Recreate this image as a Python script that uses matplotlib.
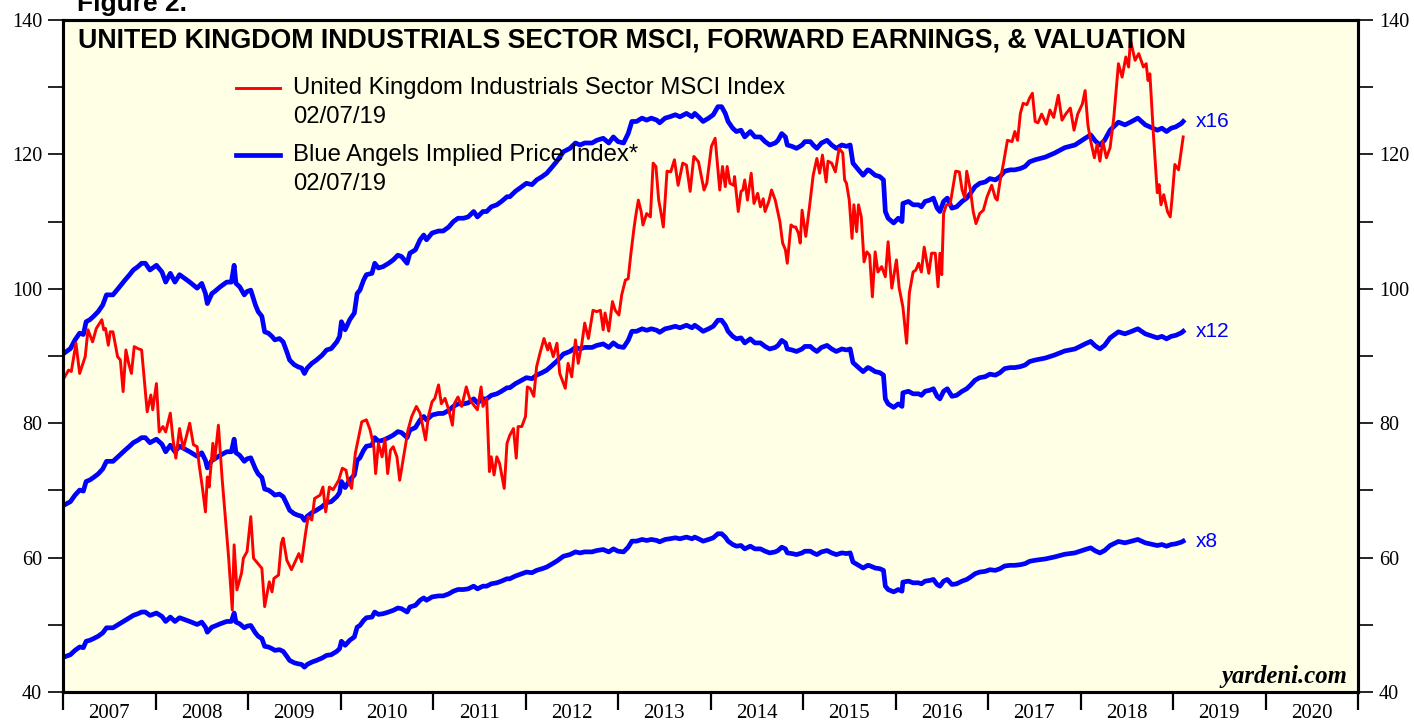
import matplotlib
matplotlib.use("Agg")
import matplotlib.pyplot as plt
from matplotlib.lines import Line2D
from matplotlib.ticker import MultipleLocator
import numpy as np

# UK Industrials MSCI price index (weekly)
red_dates = [
    2007.01, 2007.06, 2007.09, 2007.14, 2007.18, 2007.24, 2007.27, 2007.32, 2007.36, 2007.42,
    2007.44, 2007.46, 2007.49, 2007.51, 2007.54, 2007.59, 2007.62, 2007.65, 2007.68, 2007.71,
    2007.74, 2007.77, 2007.81, 2007.85, 2007.91, 2007.95, 2007.97, 2008.01, 2008.04, 2008.08,
    2008.11, 2008.16, 2008.19, 2008.22, 2008.26, 2008.30, 2008.37, 2008.41, 2008.45, 2008.47,
    2008.51, 2008.54, 2008.56, 2008.58, 2008.62, 2008.64, 2008.68, 2008.72, 2008.73, 2008.79,
    2008.83, 2008.85, 2008.88, 2008.93, 2008.95, 2008.99, 2009.03, 2009.06, 2009.12, 2009.15,
    2009.18, 2009.23, 2009.26, 2009.28, 2009.33, 2009.36, 2009.38, 2009.42, 2009.47, 2009.51,
    2009.55, 2009.58, 2009.62, 2009.65, 2009.69, 2009.72, 2009.78, 2009.81, 2009.84, 2009.88,
    2009.92, 2009.98, 2010.02, 2010.06, 2010.08, 2010.12, 2010.16, 2010.19, 2010.23, 2010.28,
    2010.32, 2010.36, 2010.38, 2010.41, 2010.45, 2010.48, 2010.51, 2010.54, 2010.57, 2010.61,
    2010.64, 2010.70, 2010.73, 2010.77, 2010.82, 2010.86, 2010.89, 2010.92, 2010.95, 2010.99,
    2011.02, 2011.06, 2011.09, 2011.13, 2011.17, 2011.21, 2011.23, 2011.27, 2011.31, 2011.36,
    2011.40, 2011.44, 2011.48, 2011.52, 2011.54, 2011.58, 2011.61, 2011.63, 2011.66, 2011.69,
    2011.72, 2011.77, 2011.80, 2011.83, 2011.87, 2011.90, 2011.92, 2011.96, 2012.00, 2012.02,
    2012.05, 2012.09, 2012.12, 2012.16, 2012.20, 2012.24, 2012.26, 2012.30, 2012.34, 2012.37,
    2012.43, 2012.46, 2012.50, 2012.54, 2012.57, 2012.61, 2012.64, 2012.68, 2012.73, 2012.77,
    2012.81, 2012.84, 2012.86, 2012.90, 2012.94, 2012.97, 2013.01, 2013.04, 2013.08, 2013.11,
    2013.14, 2013.17, 2013.19, 2013.22, 2013.25, 2013.27, 2013.31, 2013.35, 2013.38, 2013.41,
    2013.44, 2013.46, 2013.49, 2013.53, 2013.57, 2013.61, 2013.65, 2013.70, 2013.74, 2013.78,
    2013.82, 2013.87, 2013.93, 2013.96, 2014.01, 2014.05, 2014.10, 2014.13, 2014.16, 2014.18,
    2014.21, 2014.25, 2014.26, 2014.30, 2014.33, 2014.35, 2014.37, 2014.40, 2014.44, 2014.47,
    2014.51, 2014.54, 2014.57, 2014.59, 2014.63, 2014.66, 2014.70, 2014.75, 2014.78, 2014.81,
    2014.83, 2014.87, 2014.90, 2014.92, 2014.95, 2014.97, 2014.99, 2015.03, 2015.07, 2015.11,
    2015.15, 2015.18, 2015.21, 2015.25, 2015.27, 2015.31, 2015.35, 2015.39, 2015.43, 2015.45,
    2015.47, 2015.50, 2015.53, 2015.55, 2015.58, 2015.60, 2015.63, 2015.66, 2015.69, 2015.72,
    2015.75, 2015.78, 2015.81, 2015.85, 2015.89, 2015.92, 2015.96, 2016.01, 2016.04, 2016.08,
    2016.12, 2016.15, 2016.19, 2016.22, 2016.25, 2016.28, 2016.31, 2016.36, 2016.39, 2016.43,
    2016.46, 2016.48, 2016.50, 2016.52, 2016.55, 2016.59, 2016.62, 2016.65, 2016.69, 2016.72,
    2016.75, 2016.77, 2016.81, 2016.84, 2016.87, 2016.91, 2016.95, 2016.99, 2017.04, 2017.08,
    2017.10, 2017.13, 2017.17, 2017.21, 2017.26, 2017.29, 2017.32, 2017.35, 2017.38, 2017.42,
    2017.45, 2017.48, 2017.51, 2017.54, 2017.58, 2017.63, 2017.67, 2017.71, 2017.76, 2017.80,
    2017.84, 2017.89, 2017.93, 2017.97, 2018.02, 2018.05, 2018.08, 2018.11, 2018.15, 2018.18,
    2018.21, 2018.24, 2018.28, 2018.32, 2018.36, 2018.41, 2018.45, 2018.49, 2018.52, 2018.54,
    2018.59, 2018.63, 2018.68, 2018.71, 2018.73, 2018.75, 2018.79, 2018.83, 2018.85, 2018.87,
    2018.90, 2018.94, 2018.97, 2018.99, 2019.02, 2019.06, 2019.08, 2019.11,
]
red_index = [
    86.7, 87.9, 87.7, 91.9, 87.4, 89.9, 93.9, 92.1, 94.1, 95.4,
    93.9, 94.1, 91.6, 93.6, 93.6, 89.9, 89.4, 84.7, 90.9, 88.9,
    87.4, 91.4, 91.1, 90.9, 81.7, 84.2, 82.0, 85.9, 78.7, 79.5,
    78.7, 81.5, 77.5, 74.8, 79.2, 76.2, 80.0, 76.8, 76.5, 74.0,
    70.1, 66.8, 72.0, 70.5, 77.0, 74.5, 79.7, 71.8, 70.1, 60.1,
    52.2, 61.9, 55.2, 57.7, 59.9, 60.9, 66.1, 59.9, 58.9, 58.4,
    52.7, 56.4, 54.9, 56.9, 57.4, 62.1, 62.9, 59.6, 58.2, 59.4,
    60.6, 59.4, 63.4, 66.1, 65.6, 68.8, 69.3, 70.5, 66.8, 70.5,
    70.1, 71.5, 73.3, 73.0, 71.5, 70.3, 75.5, 77.5, 80.2, 80.5,
    79.0, 76.5, 72.5, 77.0, 75.0, 77.7, 72.5, 76.0, 76.5, 75.0,
    71.5, 76.5, 79.0, 81.0, 82.5, 81.5, 79.5, 77.5, 81.0, 83.2,
    83.7, 85.7, 82.9, 83.7, 82.0, 79.7, 82.9, 83.9, 82.5, 85.4,
    83.5, 82.7, 82.0, 85.4, 82.5, 83.7, 72.8, 75.0, 72.3, 75.0,
    74.0, 70.3, 77.0, 78.2, 79.2, 74.8, 79.5, 79.5, 81.0, 85.4,
    85.2, 84.0, 88.4, 90.6, 92.6, 90.9, 91.9, 89.9, 91.9, 87.4,
    85.2, 88.9, 86.9, 92.4, 88.9, 91.9, 94.9, 92.6, 96.8, 96.6,
    96.8, 93.9, 96.4, 93.7, 98.1, 96.8, 96.1, 99.1, 101.3, 101.5,
    105.3, 108.7, 110.7, 113.2, 111.5, 109.5, 111.2, 110.7, 118.7, 118.2,
    113.2, 111.7, 109.2, 117.5, 117.4, 119.2, 115.4, 118.7, 118.4, 114.5,
    119.7, 118.9, 114.7, 115.7, 121.2, 122.4, 114.7, 118.2, 115.2, 118.2,
    115.7, 115.4, 116.7, 111.5, 114.5, 114.7, 116.2, 113.2, 117.2, 112.7,
    114.2, 112.2, 113.4, 111.5, 113.0, 114.7, 113.2, 110.0, 106.8, 105.8,
    103.8, 109.5, 109.2, 109.2, 108.3, 106.8, 111.7, 107.8, 112.2, 116.9,
    119.4, 117.2, 119.9, 115.9, 119.0, 118.7, 117.4, 120.9, 120.2, 116.2,
    115.7, 113.2, 107.5, 112.5, 108.5, 112.5, 110.7, 104.0, 105.5, 105.0,
    98.8, 105.5, 102.5, 103.3, 101.8, 107.0, 100.1, 104.3, 100.1, 97.3,
    91.9, 99.4, 102.5, 102.8, 103.8, 102.5, 106.2, 102.3, 105.3, 105.3,
    100.3, 105.3, 102.1, 111.2, 112.5, 112.5, 115.0, 117.5, 117.4, 114.7,
    113.5, 117.5, 114.7, 111.5, 109.7, 111.2, 111.7, 113.7, 115.4, 113.5,
    113.2, 116.0, 118.9, 122.1, 121.9, 123.4, 122.1, 126.1, 127.6, 127.4,
    128.4, 129.1, 124.9, 124.7, 126.0, 124.5, 126.6, 125.5, 128.8, 125.1,
    126.0, 126.9, 123.6, 126.0, 127.5, 129.5, 124.4, 122.0, 119.5, 121.5,
    119.0, 122.0, 119.5, 121.0, 125.5, 133.5, 131.5, 134.5, 133.0, 137.0,
    134.0, 135.0, 133.0, 133.5, 131.0, 132.0, 122.6, 114.3, 115.5, 112.5,
    114.0, 111.5, 110.7, 113.5, 118.5, 117.7, 119.7, 122.6,
]

# Blue Angels implied price at 16x forward earnings
blue_dates = [
    2007.01, 2007.08, 2007.13, 2007.18, 2007.22, 2007.25, 2007.29, 2007.33, 2007.38, 2007.43,
    2007.47, 2007.54, 2007.60, 2007.67, 2007.72, 2007.76, 2007.81, 2007.85, 2007.89, 2007.94,
    2008.01, 2008.07, 2008.11, 2008.16, 2008.21, 2008.26, 2008.32, 2008.37, 2008.45, 2008.50,
    2008.54, 2008.56, 2008.61, 2008.64, 2008.70, 2008.77, 2008.82, 2008.85, 2008.87, 2008.91,
    2008.96, 2008.99, 2009.03, 2009.08, 2009.11, 2009.15, 2009.18, 2009.22, 2009.26, 2009.29,
    2009.34, 2009.38, 2009.42, 2009.45, 2009.50, 2009.54, 2009.58, 2009.61, 2009.64, 2009.69,
    2009.74, 2009.80, 2009.85, 2009.90, 2009.96, 2009.99, 2010.01, 2010.05, 2010.10, 2010.15,
    2010.18, 2010.21, 2010.25, 2010.28, 2010.34, 2010.37, 2010.41, 2010.46, 2010.52, 2010.57,
    2010.62, 2010.66, 2010.72, 2010.75, 2010.81, 2010.86, 2010.90, 2010.93, 2010.99, 2011.06,
    2011.11, 2011.17, 2011.22, 2011.27, 2011.33, 2011.38, 2011.44, 2011.48, 2011.54, 2011.58,
    2011.63, 2011.69, 2011.74, 2011.80, 2011.83, 2011.89, 2011.94, 2012.01, 2012.07, 2012.12,
    2012.18, 2012.23, 2012.28, 2012.34, 2012.41, 2012.48, 2012.54, 2012.59, 2012.64, 2012.72,
    2012.77, 2012.84, 2012.90, 2012.95, 2013.00, 2013.06, 2013.11, 2013.15, 2013.20, 2013.26,
    2013.31, 2013.36, 2013.42, 2013.45, 2013.51, 2013.56, 2013.62, 2013.67, 2013.74, 2013.80,
    2013.83, 2013.87, 2013.92, 2013.98, 2014.03, 2014.08, 2014.12, 2014.16, 2014.19, 2014.24,
    2014.28, 2014.33, 2014.37, 2014.43, 2014.48, 2014.54, 2014.59, 2014.64, 2014.70, 2014.73,
    2014.77, 2014.81, 2014.83, 2014.88, 2014.93, 2014.99, 2015.02, 2015.08, 2015.11, 2015.15,
    2015.20, 2015.26, 2015.31, 2015.36, 2015.42, 2015.47, 2015.51, 2015.54, 2015.60, 2015.65,
    2015.70, 2015.72, 2015.78, 2015.83, 2015.87, 2015.89, 2015.92, 2015.98, 2016.03, 2016.07,
    2016.08, 2016.14, 2016.19, 2016.25, 2016.28, 2016.32, 2016.37, 2016.41, 2016.45, 2016.48,
    2016.52, 2016.56, 2016.61, 2016.66, 2016.72, 2016.77, 2016.81, 2016.86, 2016.91, 2016.97,
    2017.02, 2017.08, 2017.13, 2017.18, 2017.24, 2017.29, 2017.35, 2017.40, 2017.45, 2017.51,
    2017.62, 2017.72, 2017.83, 2017.94, 2018.05, 2018.11, 2018.16, 2018.21, 2018.26, 2018.32,
    2018.41, 2018.48, 2018.54, 2018.62, 2018.70, 2018.75, 2018.83, 2018.88, 2018.93, 2018.98,
    2019.03, 2019.09, 2019.11,
]
implied_16x = [
    90.4, 91.1, 92.4, 93.4, 93.2, 95.1, 95.4, 95.9, 96.6, 97.6,
    99.1, 99.1, 100.1, 101.3, 102.1, 102.8, 103.3, 103.8, 103.8, 102.8,
    103.5, 102.5, 101.0, 102.3, 101.0, 102.1, 101.5, 101.0, 100.1, 100.8,
    99.3, 97.8, 99.3, 99.6, 100.3, 101.0, 101.0, 103.5, 100.8, 100.3,
    99.1, 99.6, 99.8, 97.6, 96.6, 95.9, 93.6, 93.4, 92.9, 92.4,
    92.6, 92.1, 90.6, 89.4, 88.7, 88.4, 88.2, 87.4, 88.2, 88.9,
    89.4, 90.1, 90.9, 91.1, 92.1, 92.9, 95.1, 93.9, 95.4, 96.4,
    99.3, 99.8, 101.3, 102.1, 102.3, 103.8, 103.1, 103.3, 103.8, 104.3,
    105.0, 104.8, 103.8, 105.3, 105.8, 107.3, 108.0, 107.3, 108.3, 108.6,
    108.6, 109.2, 110.0, 110.5, 110.5, 110.7, 111.5, 110.7, 111.5, 111.5,
    112.2, 112.5, 113.0, 113.7, 113.7, 114.5, 115.0, 115.7, 115.5, 116.2,
    116.7, 117.2, 118.0, 119.0, 120.4, 120.9, 121.7, 121.4, 121.7, 121.7,
    122.1, 122.4, 121.7, 122.6, 121.9, 121.7, 123.1, 124.9, 124.9, 125.4,
    125.1, 125.4, 125.1, 124.7, 125.4, 125.6, 125.9, 125.6, 126.1, 125.6,
    126.1, 125.6, 124.9, 125.4, 125.9, 127.1, 127.1, 126.1, 124.9, 123.9,
    123.4, 123.6, 122.6, 123.4, 122.6, 122.6, 121.9, 121.4, 121.7, 122.1,
    123.1, 122.6, 121.4, 121.2, 120.9, 121.4, 121.9, 121.9, 121.4, 120.9,
    121.7, 122.1, 121.4, 120.9, 121.4, 121.2, 121.4, 118.7, 117.7, 116.9,
    117.7, 117.6, 116.9, 116.7, 116.2, 111.5, 110.5, 109.8, 110.5, 110.0,
    112.7, 113.0, 112.5, 112.5, 112.2, 113.0, 113.2, 113.5, 112.0, 111.5,
    113.0, 113.5, 112.0, 112.2, 113.0, 113.5, 114.2, 115.2, 115.7, 115.9,
    116.4, 116.2, 116.7, 117.5, 117.7, 117.7, 117.9, 118.2, 118.9, 119.2,
    119.6, 120.2, 121.0, 121.4, 122.4, 122.9, 122.0, 121.4, 122.1, 123.6,
    124.8, 124.4, 124.8, 125.4, 124.4, 124.1, 123.6, 123.9, 123.4, 123.9,
    124.1, 124.6, 124.9,
]
multiples = [16, 12, 8]
years = list(range(2007, 2021))

fwd_earnings = np.array(implied_16x) / 16.0

SANS = "Liberation Sans"
SERIF = "Liberation Serif"
RED = "#FF0000"
BLUE = "#0000FF"

fig = plt.figure(figsize=(14.14, 7.21), dpi=100)
ax = fig.add_axes([63 / 1414, 1 - 692 / 721, 1295 / 1414, 672 / 721])
ax.set_facecolor("#FFFFE5")

ax.plot(red_dates, red_index, color=RED, lw=2.1, zorder=3)
for m in multiples:
    vals = fwd_earnings * m
    ax.plot(blue_dates, vals, color=BLUE, lw=3.4, zorder=2, solid_joinstyle="round")
    ax.annotate("x%d" % m, xy=(blue_dates[-1], vals[-1]), xytext=(9, 0),
                textcoords="offset points", va="center", ha="left",
                color=BLUE, fontsize=15, family=SANS)

ax.set_xlim(2007, 2021)
ax.set_ylim(40, 140)

# x axis: year boundaries as ticks, labels in the middle of each year
ax.set_xticks(years + [2021])
ax.set_xticklabels([])
ax.set_xticks([y + 0.5 for y in years], minor=True)
ax.set_xticklabels([str(y) for y in years], minor=True, family=SERIF, fontsize=15)
ax.tick_params(axis="x", which="major", direction="out", length=13, width=1.6)
ax.tick_params(axis="x", which="minor", length=0, pad=9)

ax.yaxis.set_major_locator(MultipleLocator(20))
ax.yaxis.set_minor_locator(MultipleLocator(10))
ax.tick_params(axis="y", which="both", direction="out", length=11, width=1.2,
               labelsize=14.5, pad=4)
for lab in ax.get_yticklabels():
    lab.set_family(SERIF)

ax2 = ax.twinx()
ax2.set_ylim(40, 140)
ax2.yaxis.set_major_locator(MultipleLocator(20))
ax2.yaxis.set_minor_locator(MultipleLocator(10))
ax2.tick_params(axis="y", which="both", direction="out", length=11, width=1.2,
                labelsize=14.5, pad=4)
for lab in ax2.get_yticklabels():
    lab.set_family(SERIF)

for a in (ax, ax2):
    for s in a.spines.values():
        s.set_linewidth(2.2)

# title and legend
fig.text(78 / 1414, 1 - 40 / 721,
         "UNITED KINGDOM INDUSTRIALS SECTOR MSCI, FORWARD EARNINGS, & VALUATION",
         ha="left", va="center", fontsize=19.3, fontweight="bold", family=SANS)
fig.text(77 / 1414, 1 - 11 / 721, "Figure 2.", ha="left", va="baseline",
         fontsize=19, fontweight="bold", family=SANS)

legend_items = [
    (RED, 2.1, "United Kingdom Industrials Sector MSCI Index", 88),
    (BLUE, 3.4, "Blue Angels Implied Price Index*", 155),
]
for color, lw, label, ypix in legend_items:
    yf = 1 - ypix / 721
    fig.add_artist(Line2D([236 / 1414, 280 / 1414], [yf, yf], color=color, lw=lw,
                          transform=fig.transFigure))
    fig.text(293 / 1414, yf, label, ha="left", va="center", fontsize=17.2, family=SANS)
    fig.text(293 / 1414, yf - 29 / 721, "02/07/19", ha="left", va="center",
             fontsize=17.2, family=SANS)

fig.text(1347 / 1414, 1 - 683 / 721, "yardeni.com", ha="right", va="baseline",
         fontsize=17.8, fontweight="bold", style="italic", family=SERIF)

fig.savefig("out.png", dpi=100)
